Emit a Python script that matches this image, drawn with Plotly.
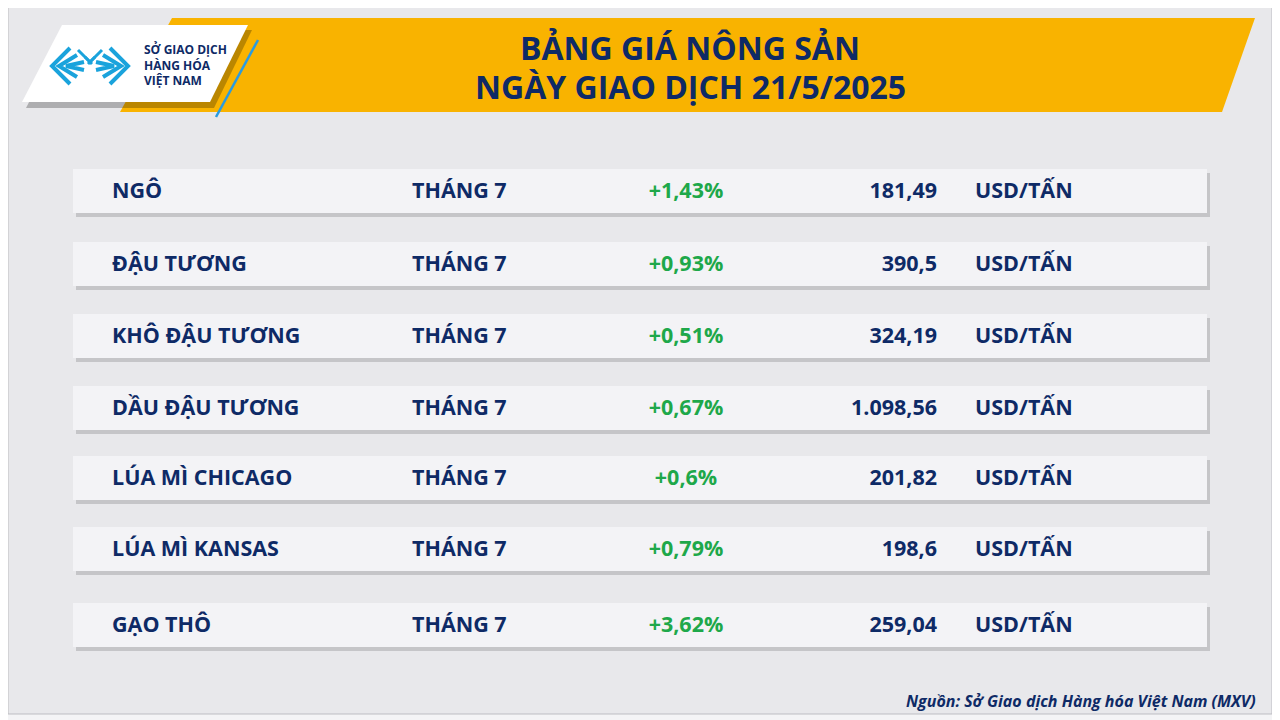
import plotly.graph_objects as go

# table data
products = ['NGÔ', 'ĐẬU TƯƠNG', 'KHÔ ĐẬU TƯƠNG', 'DẦU ĐẬU TƯƠNG', 'LÚA MÌ CHICAGO', 'LÚA MÌ KANSAS', 'GẠO THÔ']
months = ['THÁNG 7'] * 7
changes = ['+1,43%', '+0,93%', '+0,51%', '+0,67%', '+0,6%', '+0,79%', '+3,62%']
prices = ['181,49', '390,5', '324,19', '1.098,56', '201,82', '198,6', '259,04']
units = ['USD/TẤN'] * 7

row_y = [191, 264, 336, 408, 478, 549, 625]
NAVY = '#0e2a66'
GREEN = '#1ea84a'
FONT = 'Open Sans'
OFF = 8  # page body margin in the browser

fig = go.Figure()
shapes = []
# page background
shapes.append(dict(type='rect', x0=8, y0=6, x1=1272, y1=714, fillcolor='#e8e8eb',
                   line=dict(color='#bdbdc2', width=1), layer='below'))
# yellow header band
shapes.append(dict(type='path', path='M 172 18 L 1255 18 L 1222 112 L 120 112 Z',
                   fillcolor='#f9b300', line=dict(width=0), layer='below'))
# logo card shadow + card
shapes.append(dict(type='path', path='M 66 30 L 252 30 L 214 108 L 26 108 Z',
                   fillcolor='rgba(0,0,0,0.25)', line=dict(width=0), layer='below'))
shapes.append(dict(type='path', path='M 62 25 L 248 25 L 210 102 L 22 102 Z',
                   fillcolor='white', line=dict(width=0), layer='below'))
shapes.append(dict(type='line', x0=258, y0=40, x1=216, y1=117, line=dict(color='#2a9be0', width=2.5)))
# simple logo mark: nested chevrons
for k in range(3):
    d = 7 * k
    shapes.append(dict(type='path',
                       path=f'M {70+d} {48+d} L {52+d} {66} L {70+d} {84-d}',
                       line=dict(color='#1aa3dc', width=4)))
    shapes.append(dict(type='path',
                       path=f'M {110-d} {48+d} L {128-d} {66} L {110-d} {84-d}',
                       line=dict(color='#1aa3dc', width=4)))
    shapes.append(dict(type='path',
                       path=f'M {78+d} {50+d} L {90} {62} L {102-d} {50+d}',
                       line=dict(color='#1aa3dc', width=3)))

# row pills
for y in row_y:
    shapes.append(dict(type='rect', x0=76, y0=y - 18, x1=1210, y1=y + 26,
                       fillcolor='rgba(0,0,0,0.15)', line=dict(width=0), layer='below'))
    shapes.append(dict(type='rect', x0=73, y0=y - 22, x1=1207, y1=y + 22,
                       fillcolor='#f3f3f6', line=dict(width=0), layer='below'))

fs = 21.5
ty = [y + 2 for y in row_y]
fig.add_trace(go.Scatter(x=[112] * 7, y=ty, text=products, mode='text', textposition='middle right',
                         textfont=dict(family=FONT, size=fs, color=NAVY, weight='bold')))
fig.add_trace(go.Scatter(x=[412] * 7, y=ty, text=months, mode='text', textposition='middle right',
                         textfont=dict(family=FONT, size=fs, color=NAVY, weight='bold')))
fig.add_trace(go.Scatter(x=[686] * 7, y=ty, text=changes, mode='text', textposition='middle center',
                         textfont=dict(family=FONT, size=fs, color=GREEN, weight='bold')))
fig.add_trace(go.Scatter(x=[937] * 7, y=ty, text=prices, mode='text', textposition='middle left',
                         textfont=dict(family=FONT, size=fs, color=NAVY, weight='bold')))
fig.add_trace(go.Scatter(x=[975] * 7, y=ty, text=units, mode='text', textposition='middle right',
                         textfont=dict(family=FONT, size=fs, color=NAVY, weight='bold')))

annotations = [
    dict(x=690, y=47, text='BẢNG GIÁ NÔNG SẢN', showarrow=False,
         font=dict(family=FONT, size=32, color=NAVY, weight='bold')),
    dict(x=690, y=86, text='NGÀY GIAO DỊCH 21/5/2025', showarrow=False,
         font=dict(family=FONT, size=32, color=NAVY, weight='bold')),
    dict(x=142, y=65, xanchor='left', showarrow=False, align='left',
         text='SỞ GIAO DỊCH<br>HÀNG HÓA<br>VIỆT NAM',
         font=dict(family=FONT, size=12, color=NAVY, weight='bold')),
    dict(x=1258, y=701, xanchor='right', showarrow=False,
         text='<i>Nguồn: Sở Giao dịch Hàng hóa Việt Nam (MXV)</i>',
         font=dict(family=FONT, size=16, color=NAVY, weight='bold')),
]

fig.update_layout(
    width=1280, height=720, margin=dict(l=0, r=0, t=0, b=0),
    paper_bgcolor='#f4f4f6', plot_bgcolor='rgba(0,0,0,0)',
    showlegend=False, shapes=shapes, annotations=annotations,
    xaxis=dict(range=[OFF, 1280 + OFF], visible=False, fixedrange=True),
    yaxis=dict(range=[720 + OFF, OFF], visible=False, fixedrange=True),
)
fig.write_html('out.html')
